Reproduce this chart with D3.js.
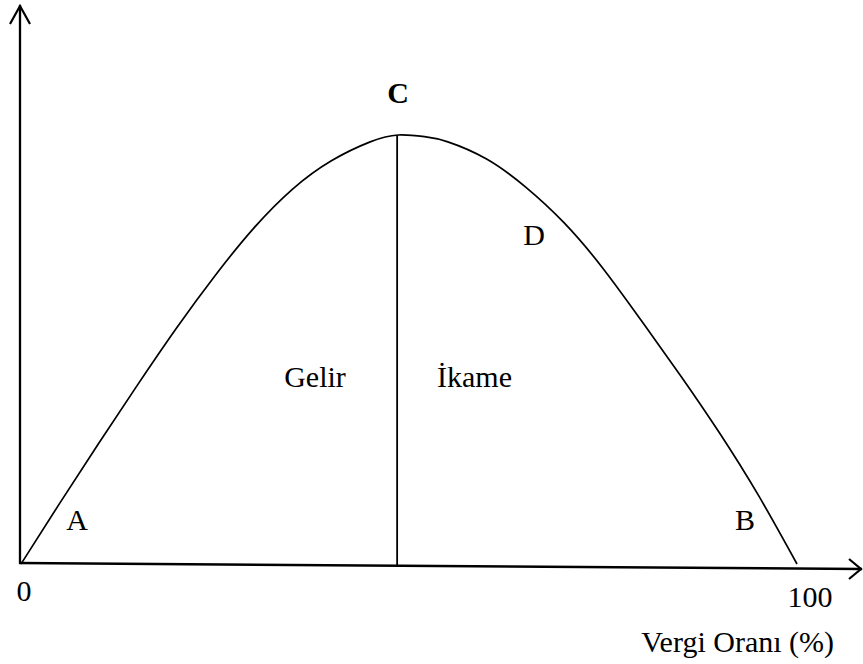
<!DOCTYPE html>
<html>
<head>
<meta charset="utf-8">
<script src="https://cdn.jsdelivr.net/npm/d3@7"></script>
<style>
  html, body { margin: 0; padding: 0; background: #fff; }
  svg text { font-family: "Liberation Serif", "Times New Roman", serif; fill: #000; }
</style>
</head>
<body>
<div id="chart" style="width:863px;height:664px;"></div>
<script>
// vergi oranı (%) ve gelir (tepe = 100), resimden okunan noktalar
const taxRate = [0, 5, 10, 15, 20, 25, 30, 35, 40, 45, 48.6, 52, 55, 60, 65, 70, 75, 80, 85, 90, 95, 100];
const revenue = [0, 14.2, 28.1, 41.7, 54.9, 67.2, 78.3, 87.4, 94.0, 98.4, 100, 99.6, 98.4, 94.4, 87.9, 79.5, 68.9, 56.6, 43.9, 30.6, 16.1, 0];
const tickLabels = [{v: 0, t: '0'}, {v: 100, t: '100'}];
const xTitle = 'Vergi Oranı (%)';

const width_svg = 863, height_svg = 664;
const svg = d3.select('#chart').append('svg')
  .attr('width', width_svg)
  .attr('height', height_svg);

const xScale = d3.scaleLinear().domain([0, 100]).range([21, 797]);
const yScale = d3.scaleLinear().domain([0, 100]).range([564, 135]);

const data = taxRate.map((r, i) => ({r: r, v: revenue[i]}));
const peak = data.reduce((a, b) => b.v > a.v ? b : a);

// eksenler (x ekseni hafif eğik)
const axisLeftX = 20, axisTop = 5, axisY0 = 563, axisTipX = 862, axisTipY = 569;
const g = svg.append('g').attr('stroke', '#000').attr('fill', 'none');

g.append('line')
  .attr('x1', axisLeftX).attr('y1', axisY0 + 1)
  .attr('x2', axisLeftX).attr('y2', axisTop)
  .attr('stroke-width', 2.3);
g.append('polyline')
  .attr('points', `${axisLeftX - 10},${axisTop + 19} ${axisLeftX},${axisTop + 1} ${axisLeftX + 10},${axisTop + 19}`)
  .attr('stroke-width', 2.2);

g.append('line')
  .attr('x1', axisLeftX - 1).attr('y1', axisY0)
  .attr('x2', axisTipX).attr('y2', axisTipY)
  .attr('stroke-width', 2.5);
g.append('polyline')
  .attr('points', `${axisTipX - 13},${axisTipY - 10} ${axisTipX - 1},${axisTipY} ${axisTipX - 13},${axisTipY + 10}`)
  .attr('stroke-width', 2.2);

const axisYAt = x => axisY0 + (axisTipY - axisY0) * (x - axisLeftX) / (axisTipX - axisLeftX);

// Laffer eğrisi
const line = d3.line()
  .x(d => xScale(d.r))
  .y(d => yScale(d.v))
  .curve(d3.curveNatural);

g.append('path')
  .datum(data)
  .attr('d', line)
  .attr('stroke-width', 1.7);

// tepe noktasından dikey çizgi
g.append('line')
  .attr('x1', xScale(peak.r) - 1).attr('x2', xScale(peak.r) - 1)
  .attr('y1', yScale(peak.v))
  .attr('y2', axisYAt(xScale(peak.r)) + 1)
  .attr('stroke-width', 1.8);

// etiketler
const fs = 30;
const labels = [
  {t: 'C', x: 398, y: 103, a: 'middle', w: 'bold'},
  {t: 'D', x: 534, y: 245, a: 'middle'},
  {t: 'A', x: 77, y: 530, a: 'middle'},
  {t: 'B', x: 745, y: 530, a: 'middle'},
  {t: 'Gelir', x: 315, y: 387, a: 'middle'},
  {t: 'İkame', x: 437, y: 387, a: 'start'}
];
svg.append('g').selectAll('text')
  .data(labels)
  .enter().append('text')
    .attr('x', d => d.x)
    .attr('y', d => d.y)
    .attr('text-anchor', d => d.a)
    .attr('font-weight', d => d.w || 'normal')
    .attr('font-size', fs)
    .text(d => d.t);

svg.append('g').selectAll('text')
  .data(tickLabels)
  .enter().append('text')
    .attr('x', d => d.v === 0 ? 24 : xScale(d.v) + 13)
    .attr('y', d => axisYAt(xScale(d.v)) + 38)
    .attr('text-anchor', 'middle')
    .attr('font-size', fs)
    .text(d => d.t);

svg.append('text')
  .attr('x', 834)
  .attr('y', 652)
  .attr('text-anchor', 'end')
  .attr('font-size', fs)
  .text(xTitle);
</script>
</body>
</html>
